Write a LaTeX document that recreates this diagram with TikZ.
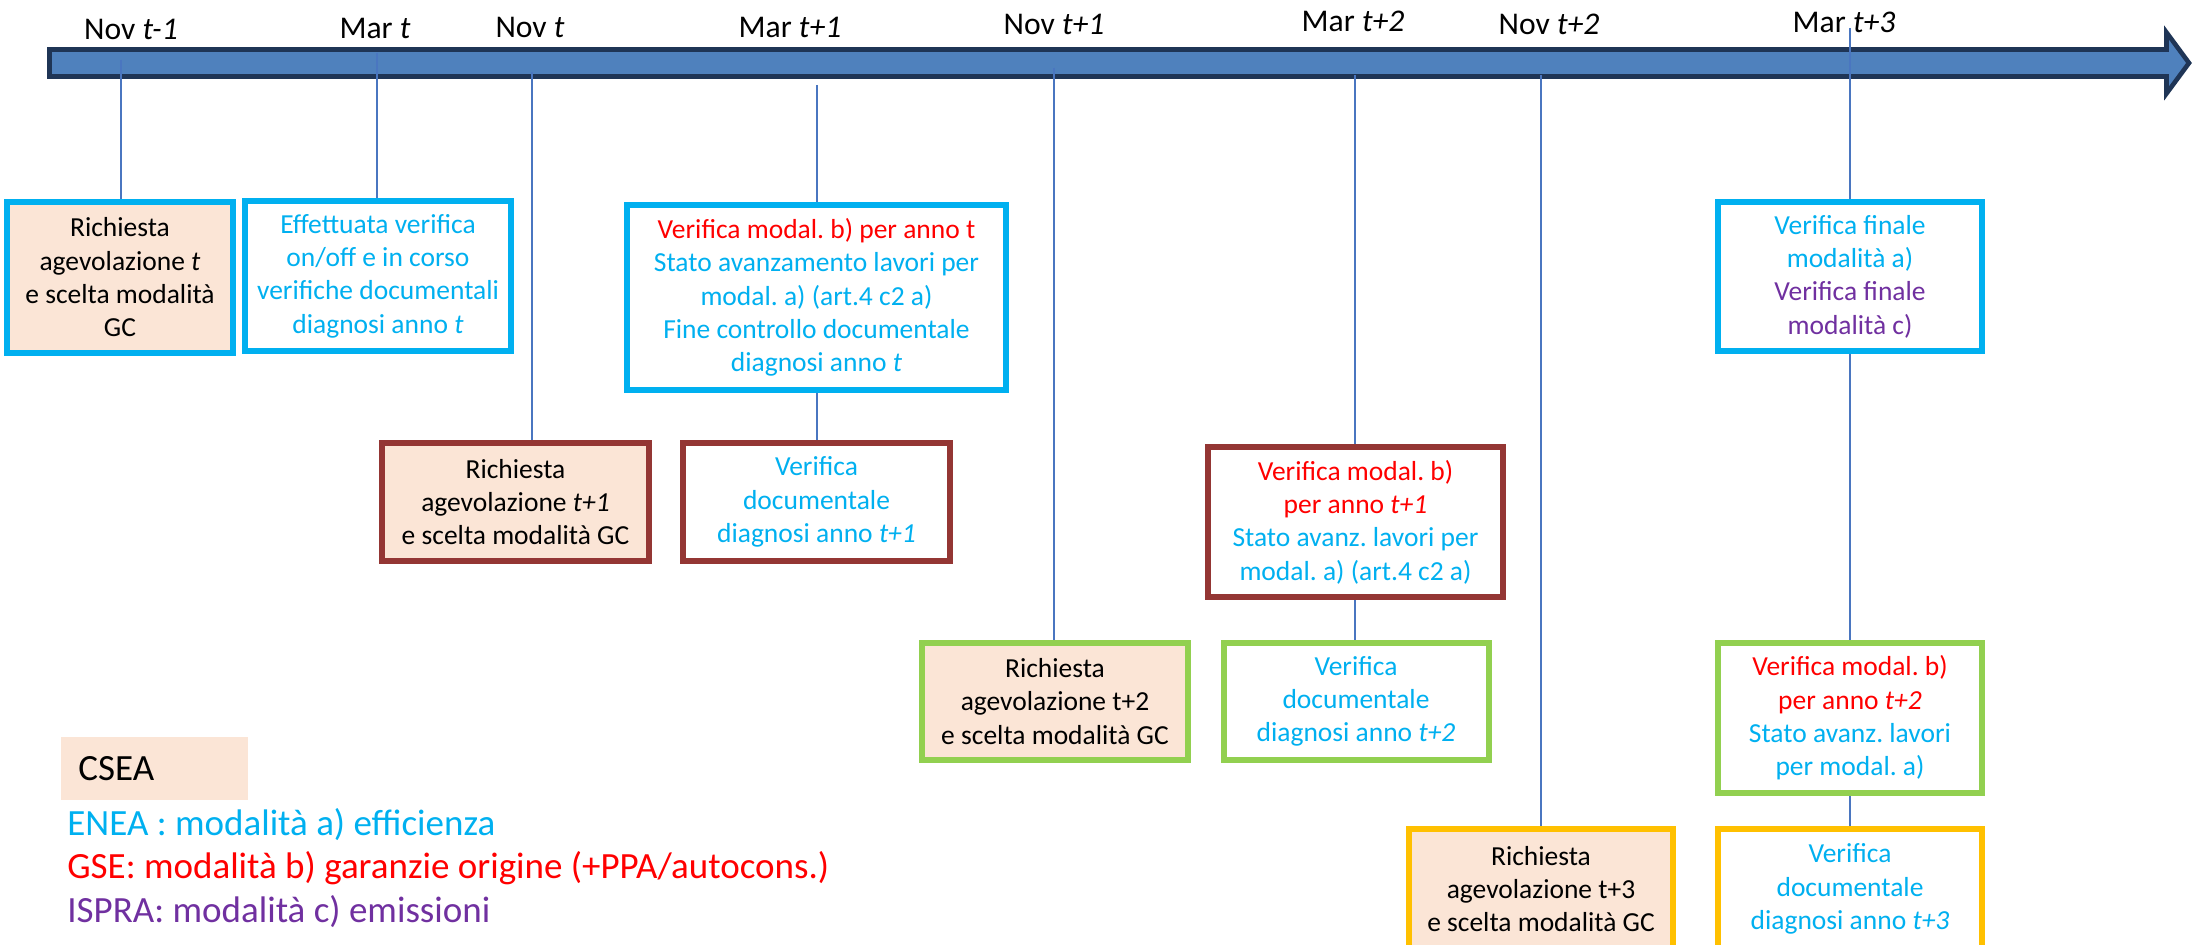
\documentclass[tikz,border=0pt]{standalone}
\usepackage{fontspec}
\setmainfont{Carlito}
\usetikzlibrary{backgrounds}
\frenchspacing
\definecolor{cy}{HTML}{00B0F0}
\definecolor{rd}{HTML}{FF0000}
\definecolor{pu}{HTML}{7030A0}
\definecolor{brownb}{HTML}{943634}
\definecolor{greenb}{HTML}{92D050}
\definecolor{yellowb}{HTML}{FFC000}
\definecolor{peach}{HTML}{FBE5D6}
\definecolor{arrowfill}{HTML}{4F81BD}
\definecolor{arrowdark}{HTML}{1F3556}
\definecolor{tickc}{HTML}{4A76C0}
\begin{document}
\begin{tikzpicture}[x=0.5pt,y=-0.5pt,
  box/.style={draw, line width=3pt, align=center, inner sep=0pt, fill=white,
    font=\fontsize{13.75}{16.65}\selectfont},
  tickline/.style={draw=tickc, line width=0.8pt},
  lab/.style={anchor=base, inner sep=0pt, font=\fontsize{15.8}{19}\selectfont},
  leg/.style={anchor=base west, inner sep=0pt, font=\fontsize{18.5}{22}\selectfont}]
\useasboundingbox (0,0) rectangle (2194,945);

% top labels
\node[lab] (l1) at (131,40) {Nov \textit{t-1}};
\node[lab] (l2) at (375,39) {Mar \textit{t}};
\node[lab] (l3) at (530,38) {Nov \textit{t}};
\node[lab] (l4) at (790,38) {Mar \textit{t+1}};
\node[lab] (l5) at (1054,35) {Nov \textit{t+1}};
\node[lab] (l6) at (1353,32) {Mar \textit{t+2}};
\node[lab] (l7) at (1549,35) {Nov \textit{t+2}};
\node[lab] (l8) at (1844,33) {Mar \textit{t+3}};

% boxes
\node[box, draw=cy, fill=peach, minimum width=113pt, minimum height=75.5pt] (b1) at (120,277.5)
  {Richiesta\\agevolazione \textit{t}\\e scelta modalità\\GC};
\node[box, draw=cy, text=cy, minimum width=133pt, minimum height=75pt] (b2) at (378,276)
  {Effettuata verifica\\on/off e in corso\\verifiche documentali\\diagnosi anno \textit{t}};
\node[box, draw=cy, text=cy, minimum width=189.5pt, minimum height=92.5pt] (b3) at (816.5,297.5)
  {\textcolor{rd}{Verifica modal. b) per anno t}\\Stato avanzamento lavori per\\modal. a) (art.4 c2 a)\\Fine controllo documentale\\diagnosi anno \textit{t}};
\node[box, draw=brownb, fill=peach, minimum width=133.5pt, minimum height=59pt] (b4) at (515.5,502)
  {Richiesta\\agevolazione \textit{t+1}\\e scelta modalità GC};
\node[box, draw=brownb, text=cy, minimum width=133.5pt, minimum height=59pt] (b5) at (816.5,502)
  {Verifica\\documentale\\diagnosi anno \textit{t+1}};
\node[box, draw=greenb, fill=peach, minimum width=133pt, minimum height=58.5pt] (b6) at (1055,701.5)
  {Richiesta\\agevolazione t+2\\e scelta modalità GC};
\node[box, draw=greenb, text=cy, minimum width=132.5pt, minimum height=58.5pt] (b7) at (1356,701.5)
  {Verifica\\documentale\\diagnosi anno \textit{t+2}};
\node[box, draw=brownb, text=cy, minimum width=147.5pt, minimum height=75pt] (b8) at (1355.5,522)
  {\textcolor{rd}{Verifica modal. b)}\\\textcolor{rd}{per anno \textit{t+1}}\\Stato avanz. lavori per\\modal. a) (art.4 c2 a)};
\node[box, draw=yellowb, fill=peach, minimum width=132pt, minimum height=60pt] (b9) at (1541,889)
  {Richiesta\\agevolazione t+3\\e scelta modalità GC};
\node[box, draw=yellowb, text=cy, minimum width=132pt, minimum height=60pt] (b10) at (1850,889)
  {Verifica\\documentale\\diagnosi anno \textit{t+3}};
\node[box, draw=greenb, text=cy, minimum width=132pt, minimum height=75pt] (b11) at (1850,718)
  {\textcolor{rd}{Verifica modal. b)}\\\textcolor{rd}{per anno \textit{t+2}}\\Stato avanz. lavori\\per modal. a)};
\node[box, draw=cy, text=cy, minimum width=132pt, minimum height=74.5pt] (b12) at (1850,276.5)
  {Verifica finale\\modalità a)\\\textcolor{pu}{Verifica finale}\\\textcolor{pu}{modalità c)}};

% legend
\node[fill=peach, anchor=north west, inner ysep=0pt, inner xsep=8.5pt, text width=76.5pt,
  minimum height=31.5pt, align=left, font=\fontsize{18.5}{22}\selectfont] (csea) at (61,737) {CSEA};
\node[leg, text=cy] (enea) at (67,835) {ENEA : modalità a) efficienza};
\node[leg, text=rd] (gse) at (67,878) {GSE: modalità b) garanzie origine (+PPA/autocons.)};
\node[leg, text=pu] (ispra) at (67,922) {ISPRA: modalità c) emissioni};

\begin{scope}[on background layer]
  % timeline arrow
  \filldraw[fill=arrowfill, draw=arrowdark, line width=2.3pt, line join=miter]
    (49.5,49.5) -- (2166.5,49.5) -- (2166.5,32.5) -- (2189,63) -- (2166.5,93.5)
    -- (2166.5,76.5) -- (49.5,76.5) -- cycle;
  % tick coordinates
  \coordinate (k1) at (121,60);
  \coordinate (k2) at (377,53);
  \coordinate (k3) at (532,72);
  \coordinate (k4) at (817,85);
  \coordinate (k5) at (1054,68);
  \coordinate (k6) at (1355,75);
  \coordinate (k7) at (1541,75);
  \coordinate (k8) at (1850,28);
  \draw[tickline] (k1) -- (k1 |- b1.north);
  \draw[tickline] (k2) -- (k2 |- b2.north);
  \draw[tickline] (k3) -- (k3 |- b4.north);
  \draw[tickline] (k4) -- (k4 |- b3.north);
  \draw[tickline] (b3.south -| k4) -- (k4 |- b5.north);
  \draw[tickline] (k5) -- (k5 |- b6.north);
  \draw[tickline] (k6) -- (k6 |- b8.north);
  \draw[tickline] (b8.south -| k6) -- (k6 |- b7.north);
  \draw[tickline] (k7) -- (k7 |- b9.north);
  \draw[tickline] (k8) -- (k8 |- b12.north);
  \draw[tickline] (b12.south -| k8) -- (k8 |- b11.north);
  \draw[tickline] (b11.south -| k8) -- (k8 |- b10.north);
\end{scope}
\end{tikzpicture}
\end{document}
